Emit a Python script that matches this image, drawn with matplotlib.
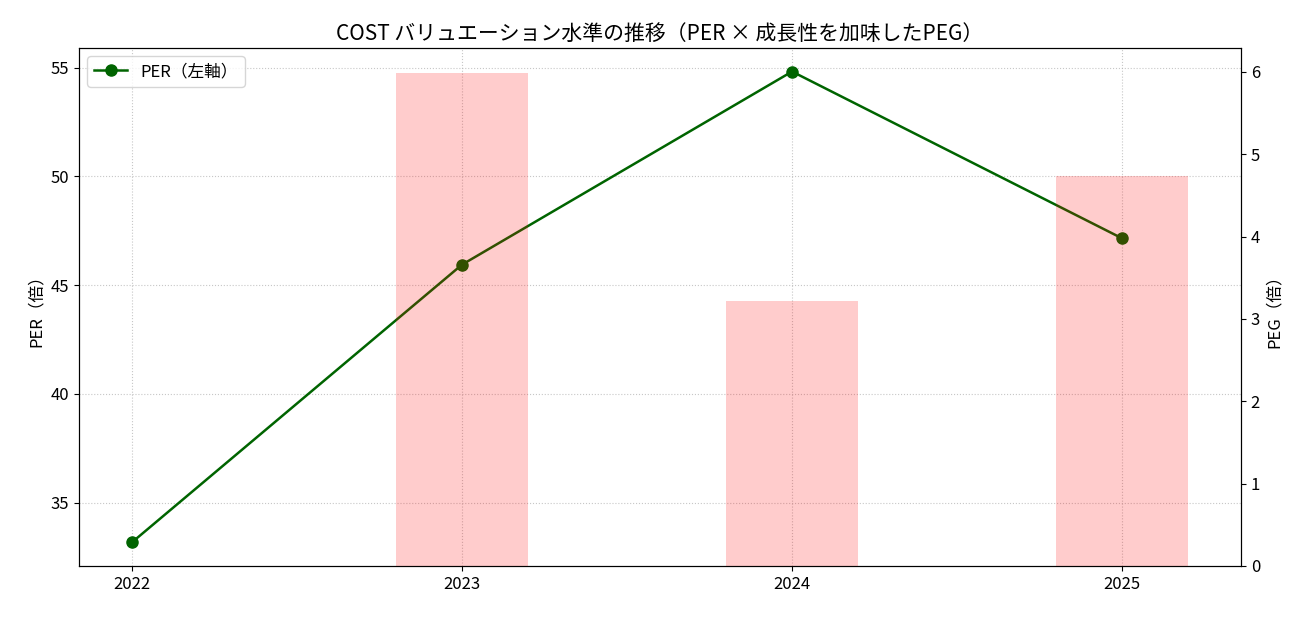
import numpy as np
import matplotlib
matplotlib.use("Agg")
import matplotlib.pyplot as plt

plt.rcParams['font.family'] = ['Noto Sans CJK JP', 'DejaVu Sans']

years = ["2022", "2023", "2024", "2025"]
per = [33.17, 45.94, 54.82, 47.15]
peg = [np.nan, 5.99, 3.22, 4.74]

fig = plt.figure(figsize=(13.09, 6.17), dpi=100)
ax = fig.add_axes([79/1309, 1 - 566/617, (1241-79)/1309, (566-48)/617])
x = np.arange(len(years))
ax.plot(x, per, color='darkgreen', marker='o', markersize=8, linewidth=1.8, label='PER（左軸）')
ax.set_ylabel('PER（倍）', fontsize=12)
ax.grid(True, linestyle=':', alpha=0.7)
ax.set_xticks(x)
ax.set_xticklabels(years)
ax.tick_params(labelsize=12)

ax2 = ax.twinx()
ax2.bar(x, peg, width=0.4, color='red', alpha=0.2, label='PEG（右軸）')
ax2.set_ylabel('PEG（倍）', fontsize=12)
ax2.tick_params(labelsize=12)

ax.legend(loc='upper left', fontsize=12)
ax.set_title('COST バリュエーション水準の推移（PER × 成長性を加味したPEG）', fontsize=15)

fig.savefig('out.png', dpi=100)
